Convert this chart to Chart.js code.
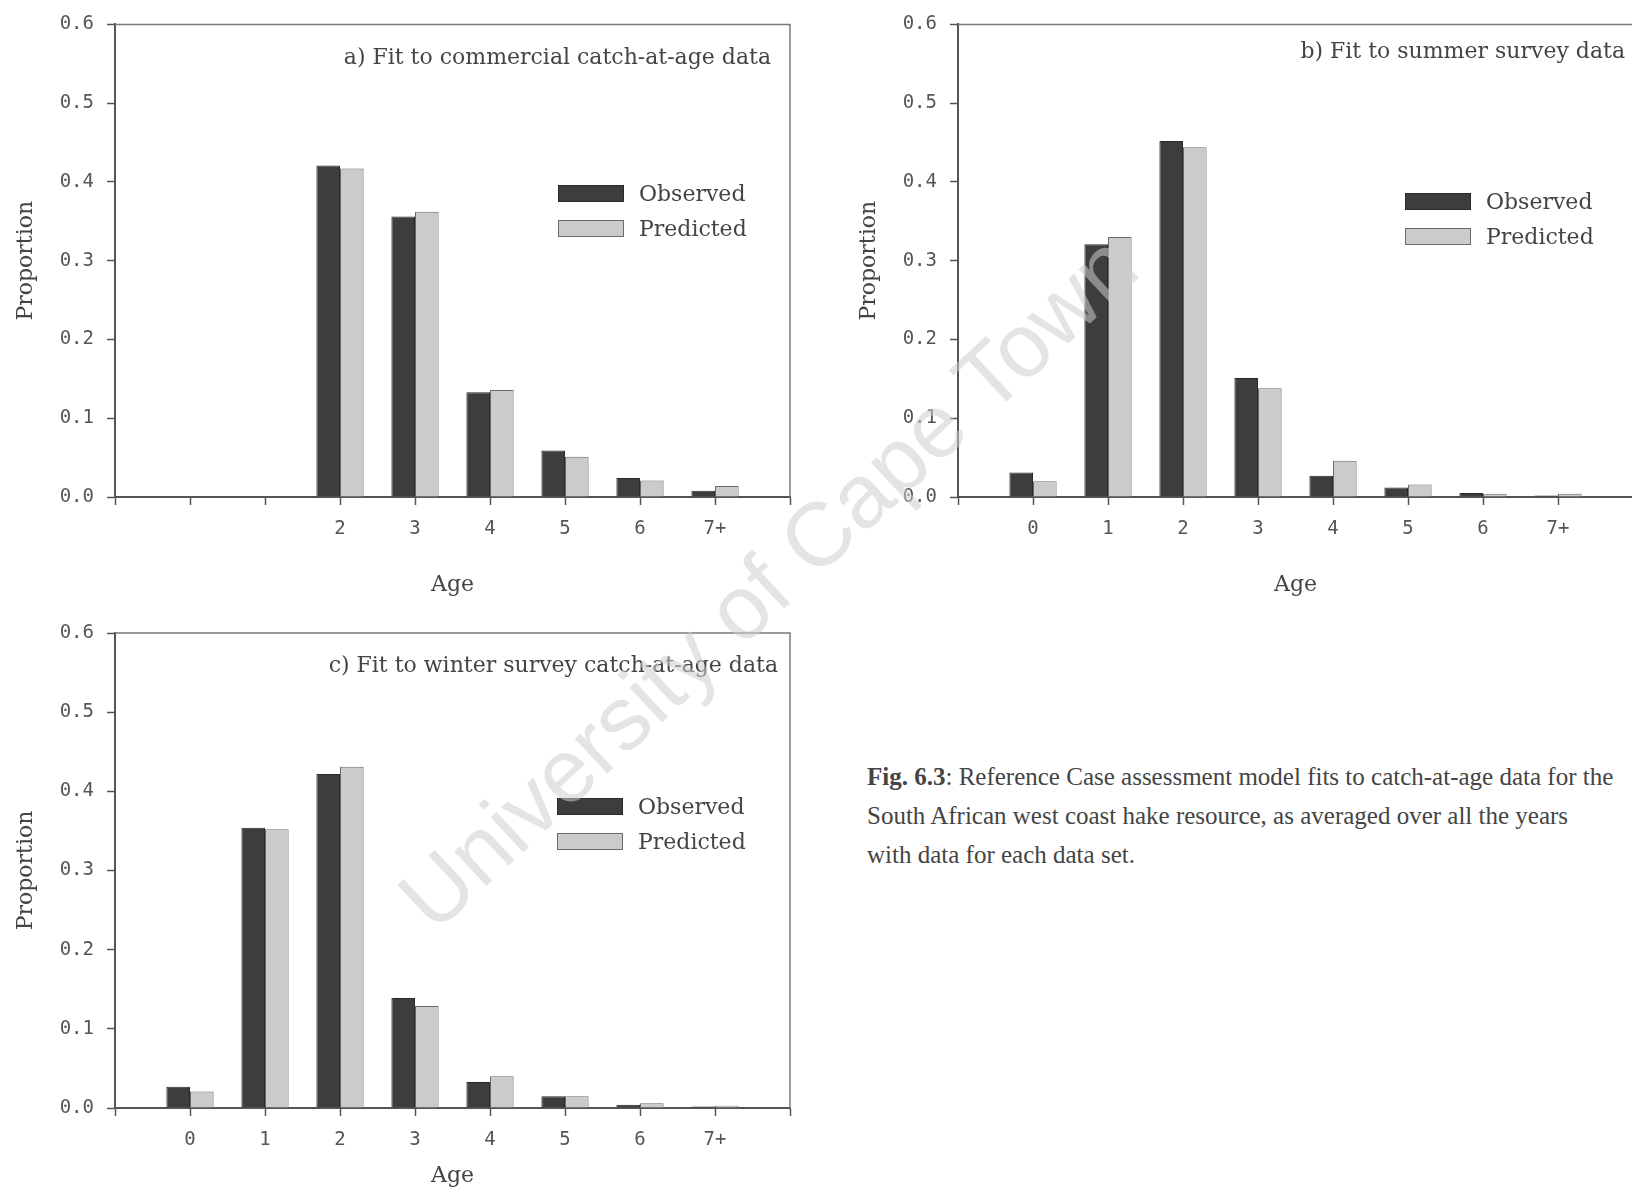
<!DOCTYPE html>
<html>
<head>
<meta charset="utf-8">
<title>Fig. 6.3 - fits to catch-at-age data</title>
<script src="https://cdn.jsdelivr.net/npm/chart.js@4.4.1/dist/chart.umd.min.js"></script>
<style>
  html, body { margin: 0; padding: 0; background: #fff; width: 1632px; height: 1193px; overflow: hidden; }
  .panel { position: absolute; }
  .ptitle { position: absolute; font-family: "DejaVu Serif"; font-size: 22px; color: #444; white-space: nowrap; transform: translate(-100%, -50%); }
  .legend { position: absolute; font-family: "DejaVu Serif"; font-size: 22px; color: #444; }
  .legend .row { height: 35px; display: flex; align-items: center; }
  .legend .sw { width: 66px; height: 17px; margin-right: 15px; box-sizing: border-box; }
  .caption { position: absolute; left: 867px; top: 757px; font-family: "Liberation Serif"; font-size: 25px; line-height: 39px; color: #444; white-space: nowrap; }
  .watermark { position: absolute; left: 768px; top: 582px; transform: translate(-50%, -50%) rotate(-43deg); font-family: "Liberation Sans"; font-size: 90px; color: rgba(205,205,205,0.55); white-space: nowrap; pointer-events: none; }
</style>
</head>
<body>

<canvas id="chartA" class="panel" width="830" height="600" style="left:0;top:0"></canvas>
<canvas id="chartB" class="panel" width="820" height="600" style="left:830px;top:0"></canvas>
<canvas id="chartC" class="panel" width="830" height="593" style="left:0;top:600px"></canvas>

<div class="ptitle" style="left:771px;top:56px">a) Fit to commercial catch-at-age data</div>
<div class="ptitle" style="left:1625px;top:50px">b) Fit to summer survey data</div>
<div class="ptitle" style="left:778px;top:664px">c) Fit to winter survey catch-at-age data</div>

<div class="legend" id="legA" style="left:558px;top:176px"></div>
<div class="legend" id="legB" style="left:1405px;top:184px"></div>
<div class="legend" id="legC" style="left:557px;top:789px"></div>

<div class="caption">
  <b>Fig. 6.3</b>: Reference Case assessment model fits to catch-at-age data for the<br>
  South African west coast hake resource, as averaged over all the years<br>
  with data for each data set.
</div>

<div class="watermark">University of Cape Town</div>

<script>
// age classes (commercial data has no age 0 / 1 labels)
const agesCommercial = ['', '', '2', '3', '4', '5', '6', '7+'];
const agesSurvey = ['0', '1', '2', '3', '4', '5', '6', '7+'];
const yTicks = [0, 0.1, 0.2, 0.3, 0.4, 0.5, 0.6];

// a) commercial catch-at-age
const commercialObserved  = [null, null, 0.421, 0.356, 0.133, 0.059, 0.024, 0.008];
const commercialPredicted = [null, null, 0.417, 0.362, 0.136, 0.051, 0.021, 0.014];

// b) summer survey
const summerObserved  = [0.031, 0.321, 0.452, 0.151, 0.027, 0.012, 0.005, 0.002];
const summerPredicted = [0.020, 0.330, 0.444, 0.138, 0.046, 0.016, 0.004, 0.004];

// c) winter survey
const winterObserved  = [0.027, 0.354, 0.422, 0.139, 0.033, 0.015, 0.004, 0.002];
const winterPredicted = [0.021, 0.352, 0.431, 0.129, 0.040, 0.015, 0.006, 0.003];

const colObs = '#3d3d3d';
const colPred = '#cbcbcb';

// empty slot each side so the axis runs from edge to edge like the excel plot
function pad(arr, fill) {
  return [fill].concat(arr, [fill]);
}

const boxOutline = {
  id: 'boxOutline',
  afterDatasetsDraw(chart) {
    const { ctx, chartArea: a } = chart;
    ctx.save();
    ctx.strokeStyle = '#7a7a7a';
    ctx.lineWidth = 1.5;
    ctx.beginPath();
    ctx.moveTo(a.left, a.top);
    ctx.lineTo(a.right, a.top);
    ctx.lineTo(a.right, a.bottom);
    ctx.stroke();
    ctx.restore();
  }
};

function makeChart(id, labels, obs, pred, p) {
  const ctx = document.getElementById(id).getContext('2d');
  return new Chart(ctx, {
    type: 'bar',
    data: {
      labels: pad(labels, ''),
      datasets: [
        { label: 'Observed', data: pad(obs, null), backgroundColor: colObs, borderColor: '#2a2a2a', borderWidth: 1 },
        { label: 'Predicted', data: pad(pred, null), backgroundColor: colPred, borderColor: '#6a6a6a', borderWidth: 1 }
      ]
    },
    options: {
      responsive: false,
      animation: false,
      layout: { padding: p.padding },
      datasets: { bar: { categoryPercentage: 0.63, barPercentage: 1.0 } },
      plugins: { legend: { display: false }, tooltip: { enabled: false } },
      scales: {
        x: {
          offset: false,
          grid: { offset: false, drawOnChartArea: false, drawTicks: true, tickLength: 8, tickColor: '#555', tickWidth: 1.5 },
          border: { color: '#555', width: 2 },
          ticks: { color: '#555', font: { family: 'DejaVu Sans Mono', size: 19 }, padding: 13, autoSkip: false, maxRotation: 0 },
          title: { display: true, text: 'Age', color: '#444', font: { family: 'DejaVu Serif', size: 22 }, padding: { top: 0, bottom: p.xTitlePad } },
          afterFit: (s) => { s.height = p.xAxisHeight; }
        },
        y: {
          min: yTicks[0],
          max: yTicks[yTicks.length - 1],
          grid: { drawOnChartArea: false, drawTicks: true, tickLength: 8, tickColor: '#555', tickWidth: 1.5 },
          border: { color: '#555', width: 2 },
          ticks: { stepSize: 0.1, color: '#555', font: { family: 'DejaVu Sans Mono', size: 19 }, padding: 13, callback: (v) => v.toFixed(1) },
          title: { display: true, text: 'Proportion', color: '#444', font: { family: 'DejaVu Serif', size: 22 }, padding: { top: p.yTitlePad, bottom: 0 } },
          afterFit: (s) => { s.width = p.yAxisWidth; }
        }
      }
    },
    plugins: [boxOutline]
  });
}

function htmlLegend(chart, elId) {
  const el = document.getElementById(elId);
  chart.data.datasets.forEach((ds) => {
    const row = document.createElement('div');
    row.className = 'row';
    const sw = document.createElement('div');
    sw.className = 'sw';
    sw.style.background = ds.backgroundColor;
    sw.style.border = '1px solid ' + ds.borderColor;
    const txt = document.createElement('span');
    txt.textContent = ds.label;
    row.appendChild(sw);
    row.appendChild(txt);
    el.appendChild(row);
  });
}

const chartA = makeChart('chartA', agesCommercial, commercialObserved, commercialPredicted, {
  padding: { left: 0, top: 22, right: 40, bottom: 0 }, yAxisWidth: 115, xAxisHeight: 103, xTitlePad: 2, yTitlePad: 13
});
const chartB = makeChart('chartB', agesSurvey, summerObserved, summerPredicted, {
  padding: { left: 0, top: 22, right: 17, bottom: 0 }, yAxisWidth: 128, xAxisHeight: 103, xTitlePad: 2, yTitlePad: 26
});
const chartC = makeChart('chartC', agesSurvey, winterObserved, winterPredicted, {
  padding: { left: 0, top: 33, right: 40, bottom: 0 }, yAxisWidth: 115, xAxisHeight: 85, xTitlePad: 4, yTitlePad: 13
});

htmlLegend(chartA, 'legA');
htmlLegend(chartB, 'legB');
htmlLegend(chartC, 'legC');
</script>
</body>
</html>
